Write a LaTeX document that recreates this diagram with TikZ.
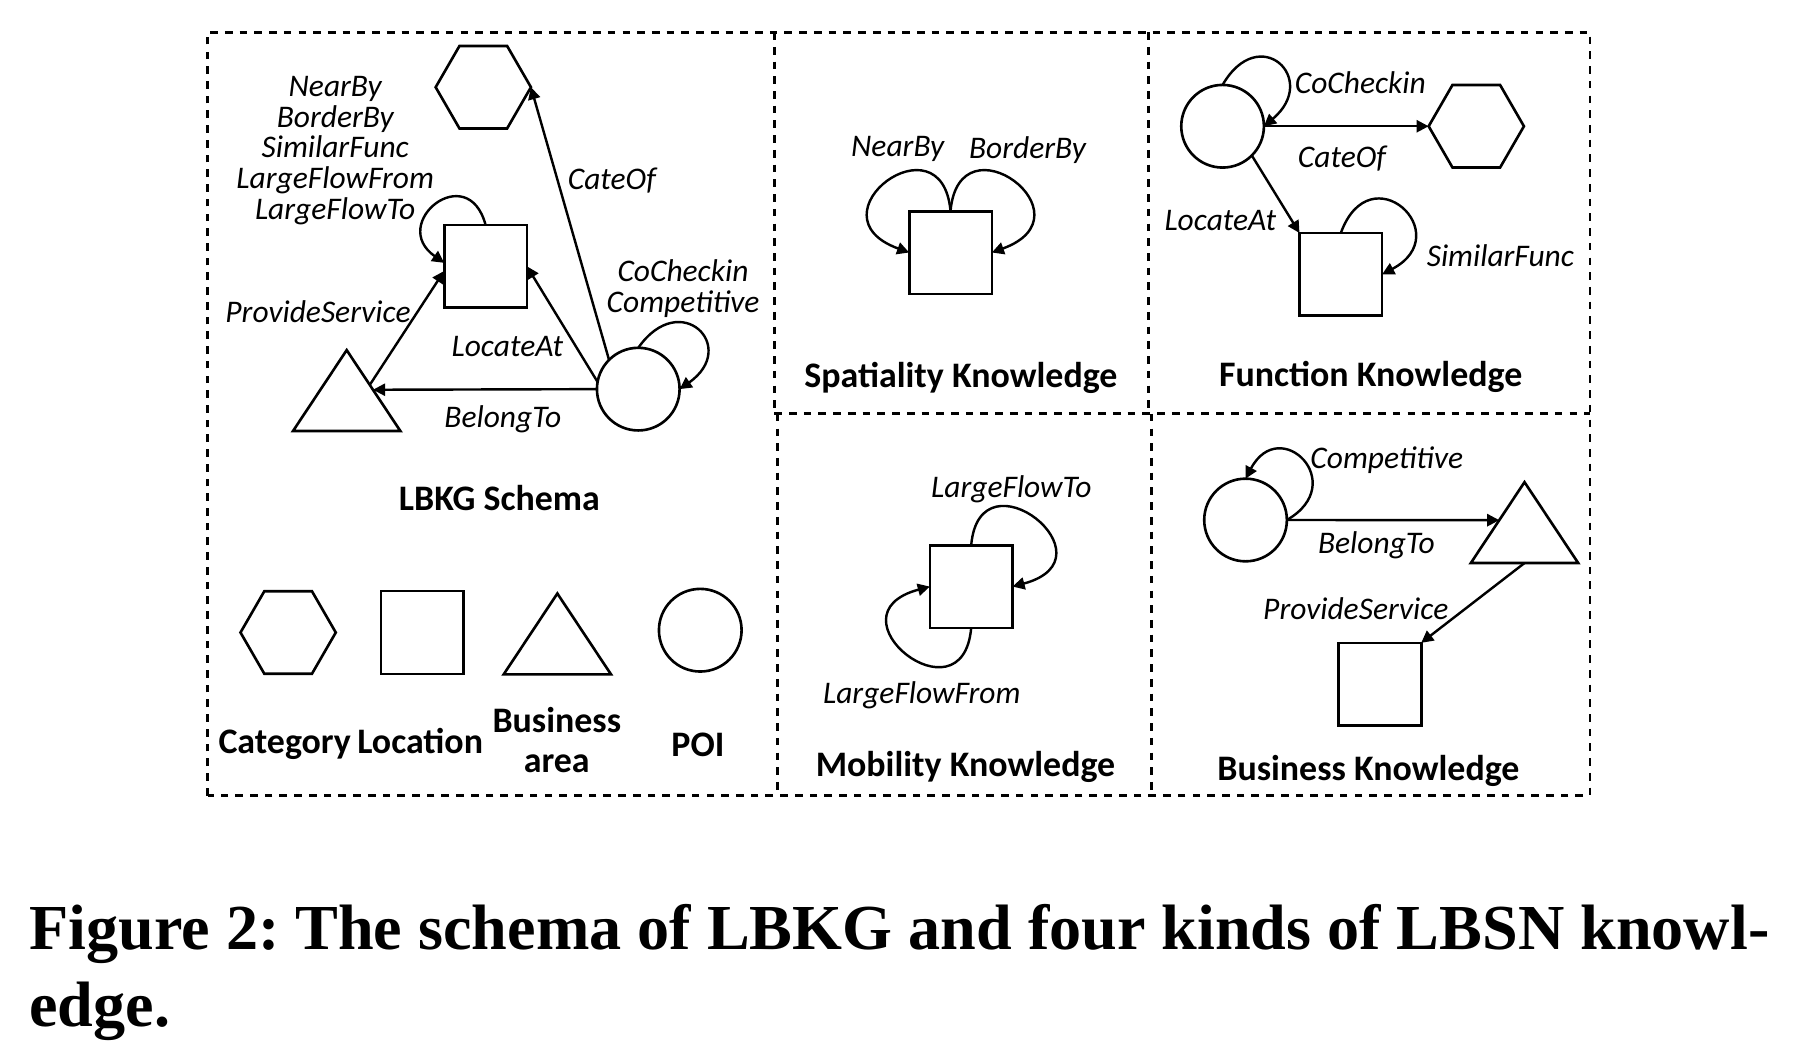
\documentclass[tikz,border=0pt]{standalone}
\usepackage{fontspec}
\newfontfamily\carlito{Carlito}
\newfontfamily\capfont{Liberation Serif}
\usetikzlibrary{shapes.geometric,arrows.meta,positioning,calc}
\frenchspacing

\begin{document}
\begin{tikzpicture}[
    shp/.style={draw, line width=0.65pt, inner sep=0pt, outer sep=0pt},
    hexa/.style={shp, regular polygon, regular polygon sides=6, minimum size=0.83cm},
    sq/.style={shp, rectangle, minimum size=0.72cm},
    tri/.style={shp, regular polygon, regular polygon sides=3, minimum size=1.08cm, yscale=0.87},
    circ/.style={shp, circle, minimum size=0.72cm},
    lbl/.style={font=\carlito\itshape\fontsize{7.8}{7.6}\selectfont, align=center, inner sep=0pt},
    ttl/.style={font=\carlito\bfseries\fontsize{8.9}{9.9}\selectfont, align=center, inner sep=0pt},
    figcap/.style={font=\capfont\bfseries\fontsize{15.9}{19}\selectfont, inner sep=0pt, anchor=base west},
    arrow/.style={-{Triangle[length=3pt,width=3pt]}, line width=0.6pt},
    panel/.style={dash pattern=on 1.9pt off 1.75pt, line width=0.7pt}
]
    \useasboundingbox (0,0) rectangle (15.68,9.25);

    \draw[panel] (1.81,2.32) rectangle (13.85,8.97);
    \draw[panel] (6.745,8.97) -- (6.745,5.645);
    \draw[panel] (6.77,5.645) -- (6.77,2.32);
    \draw[panel] (10.005,8.97) -- (10.005,5.645);
    \draw[panel] (10.03,5.645) -- (10.03,2.32);
    \draw[panel] (6.745,5.645) -- (13.85,5.645);

    % LBKG schema
    \node[hexa] (cat) at (4.21,8.49) {};
    \node[sq] (loc) at (4.23,6.93) {};
    \node[tri] (biz) at (3.02,5.73) {};
    \node[circ] (poi) at (5.56,5.86) {};

    \node[lbl] (rels) at (2.92,7.94) {NearBy\\BorderBy\\SimilarFunc\\LargeFlowFrom\\LargeFlowTo};
    \node[lbl] (catof) at (5.33,7.68) {CateOf};
    \node[lbl] (provide) at (2.77,6.535) {ProvideService};
    \node[lbl] (cocheck) at (5.95,6.735) {CoCheckin\\Competitive};
    \node[lbl] (locat) at (4.42,6.235) {LocateAt};
    \node[lbl] (belong) at (4.38,5.60) {BelongTo};

    \draw[arrow] (loc.north) to[out=105, in=145, distance=0.6cm] ([yshift=0.03cm]loc.west);
    \draw[arrow] (poi.north) to[out=55, in=35, distance=0.64cm] (poi.east);
    \draw[arrow] (poi.135) -- (cat.0);
    \draw[arrow] (poi.170) -- (loc.east);
    \draw[arrow] (poi.west) -- ($(biz.corner 1)!0.49!(biz.corner 3)$);
    \draw[arrow] ($(biz.corner 1)!0.43!(biz.corner 3)$) -- ([yshift=-0.04cm]loc.west);

    \node[ttl] (schema) at (4.35,4.91) {LBKG Schema};

    \node[hexa] (lcat) at (2.51,3.74) {};
    \node[sq] (lloc) at (3.68,3.74) {};
    \node[tri] (lbiz) at (4.855,3.61) {};
    \node[circ] (lpoi) at (6.10,3.76) {};
    \node[ttl, anchor=base] (tcat) at (2.48,2.69) {Category};
    \node[ttl, anchor=base] (tloc) at (3.66,2.69) {Location};
    \node[ttl] (tbiz) at (4.85,2.80) {Business\\area};
    \node[ttl, anchor=base] (tpoi) at (6.08,2.66) {POI};

    % spatiality
    \node[sq] (sloc) at (8.28,7.05) {};
    \node[lbl] (near) at (7.82,7.95) {NearBy};
    \node[lbl] (border) at (8.95,7.94) {BorderBy};
    \draw[arrow] (sloc.north) to[out=95, in=160, out distance=0.85cm, in distance=0.95cm] (sloc.west);
    \draw[arrow] (sloc.north) to[out=85, in=20, out distance=0.85cm, in distance=0.95cm] (sloc.east);
    \node[ttl] (tspat) at (8.37,5.96) {Spatiality Knowledge};

    % function
    \node[circ] (fpoi) at (10.65,8.15) {};
    \node[hexa] (fcat) at (12.86,8.15) {};
    \node[sq] (floc) at (11.68,6.86) {};
    \node[lbl] (fcocheck) at (11.85,8.53) {CoCheckin};
    \node[lbl] (fcateof) at (11.69,7.865) {CateOf};
    \node[lbl] (flocat) at (10.63,7.33) {LocateAt};
    \node[lbl] (fsimilar) at (13.07,7.02) {SimilarFunc};
    \draw[arrow] (fpoi.north) to[out=60, in=40, distance=0.64cm] (fpoi.east);
    \draw[arrow] (fpoi.east) -- (fcat.180);
    \draw[arrow] (fpoi.-45) -- (floc.north west);
    \draw[arrow] (floc.north) to[out=70, in=28, distance=0.75cm] (floc.east);
    \node[ttl] (tfunc) at (11.94,5.97) {Function Knowledge};

    % mobility
    \node[sq] (mloc) at (8.46,4.14) {};
    \node[lbl] (flowto) at (8.81,4.99) {LargeFlowTo};
    \node[lbl] (flowfrom) at (8.03,3.19) {LargeFlowFrom};
    \draw[arrow] (mloc.north) to[out=85, in=15, out distance=0.85cm, in distance=0.95cm] (mloc.east);
    \draw[arrow] (mloc.south) to[out=265, in=195, out distance=0.85cm, in distance=0.95cm] (mloc.west);
    \node[ttl] (tmob) at (8.41,2.57) {Mobility Knowledge};

    % business
    \node[circ] (bpoi) at (10.85,4.72) {};
    \node[tri] (bbiz) at (13.28,4.58) {};
    \node[sq] (bloc) at (12.02,3.29) {};
    \node[lbl] (bcomp) at (12.08,5.24) {Competitive};
    \node[lbl] (bbelong) at (11.99,4.50) {BelongTo};
    \node[lbl] (bprovide) at (11.81,3.945) {ProvideService};
    \draw[arrow] (bpoi.east) to[out=30, in=62, distance=0.64cm] (bpoi.north);
    \draw[arrow] (bpoi.east) -- ($(bbiz.corner 1)!0.47!(bbiz.corner 2)$);
    \draw[arrow] ($(bbiz.corner 2)!0.5!(bbiz.corner 3)$) -- (bloc.north east);
    \node[ttl] (tbus) at (11.92,2.53) {Business Knowledge};

    \node[figcap] (cap1) at (0.25,0.975) {Figure 2: The schema of LBKG and four kinds of LBSN knowl-};
    \node[figcap] (cap2) at (0.25,0.31) {edge.};
\end{tikzpicture}
\end{document}
